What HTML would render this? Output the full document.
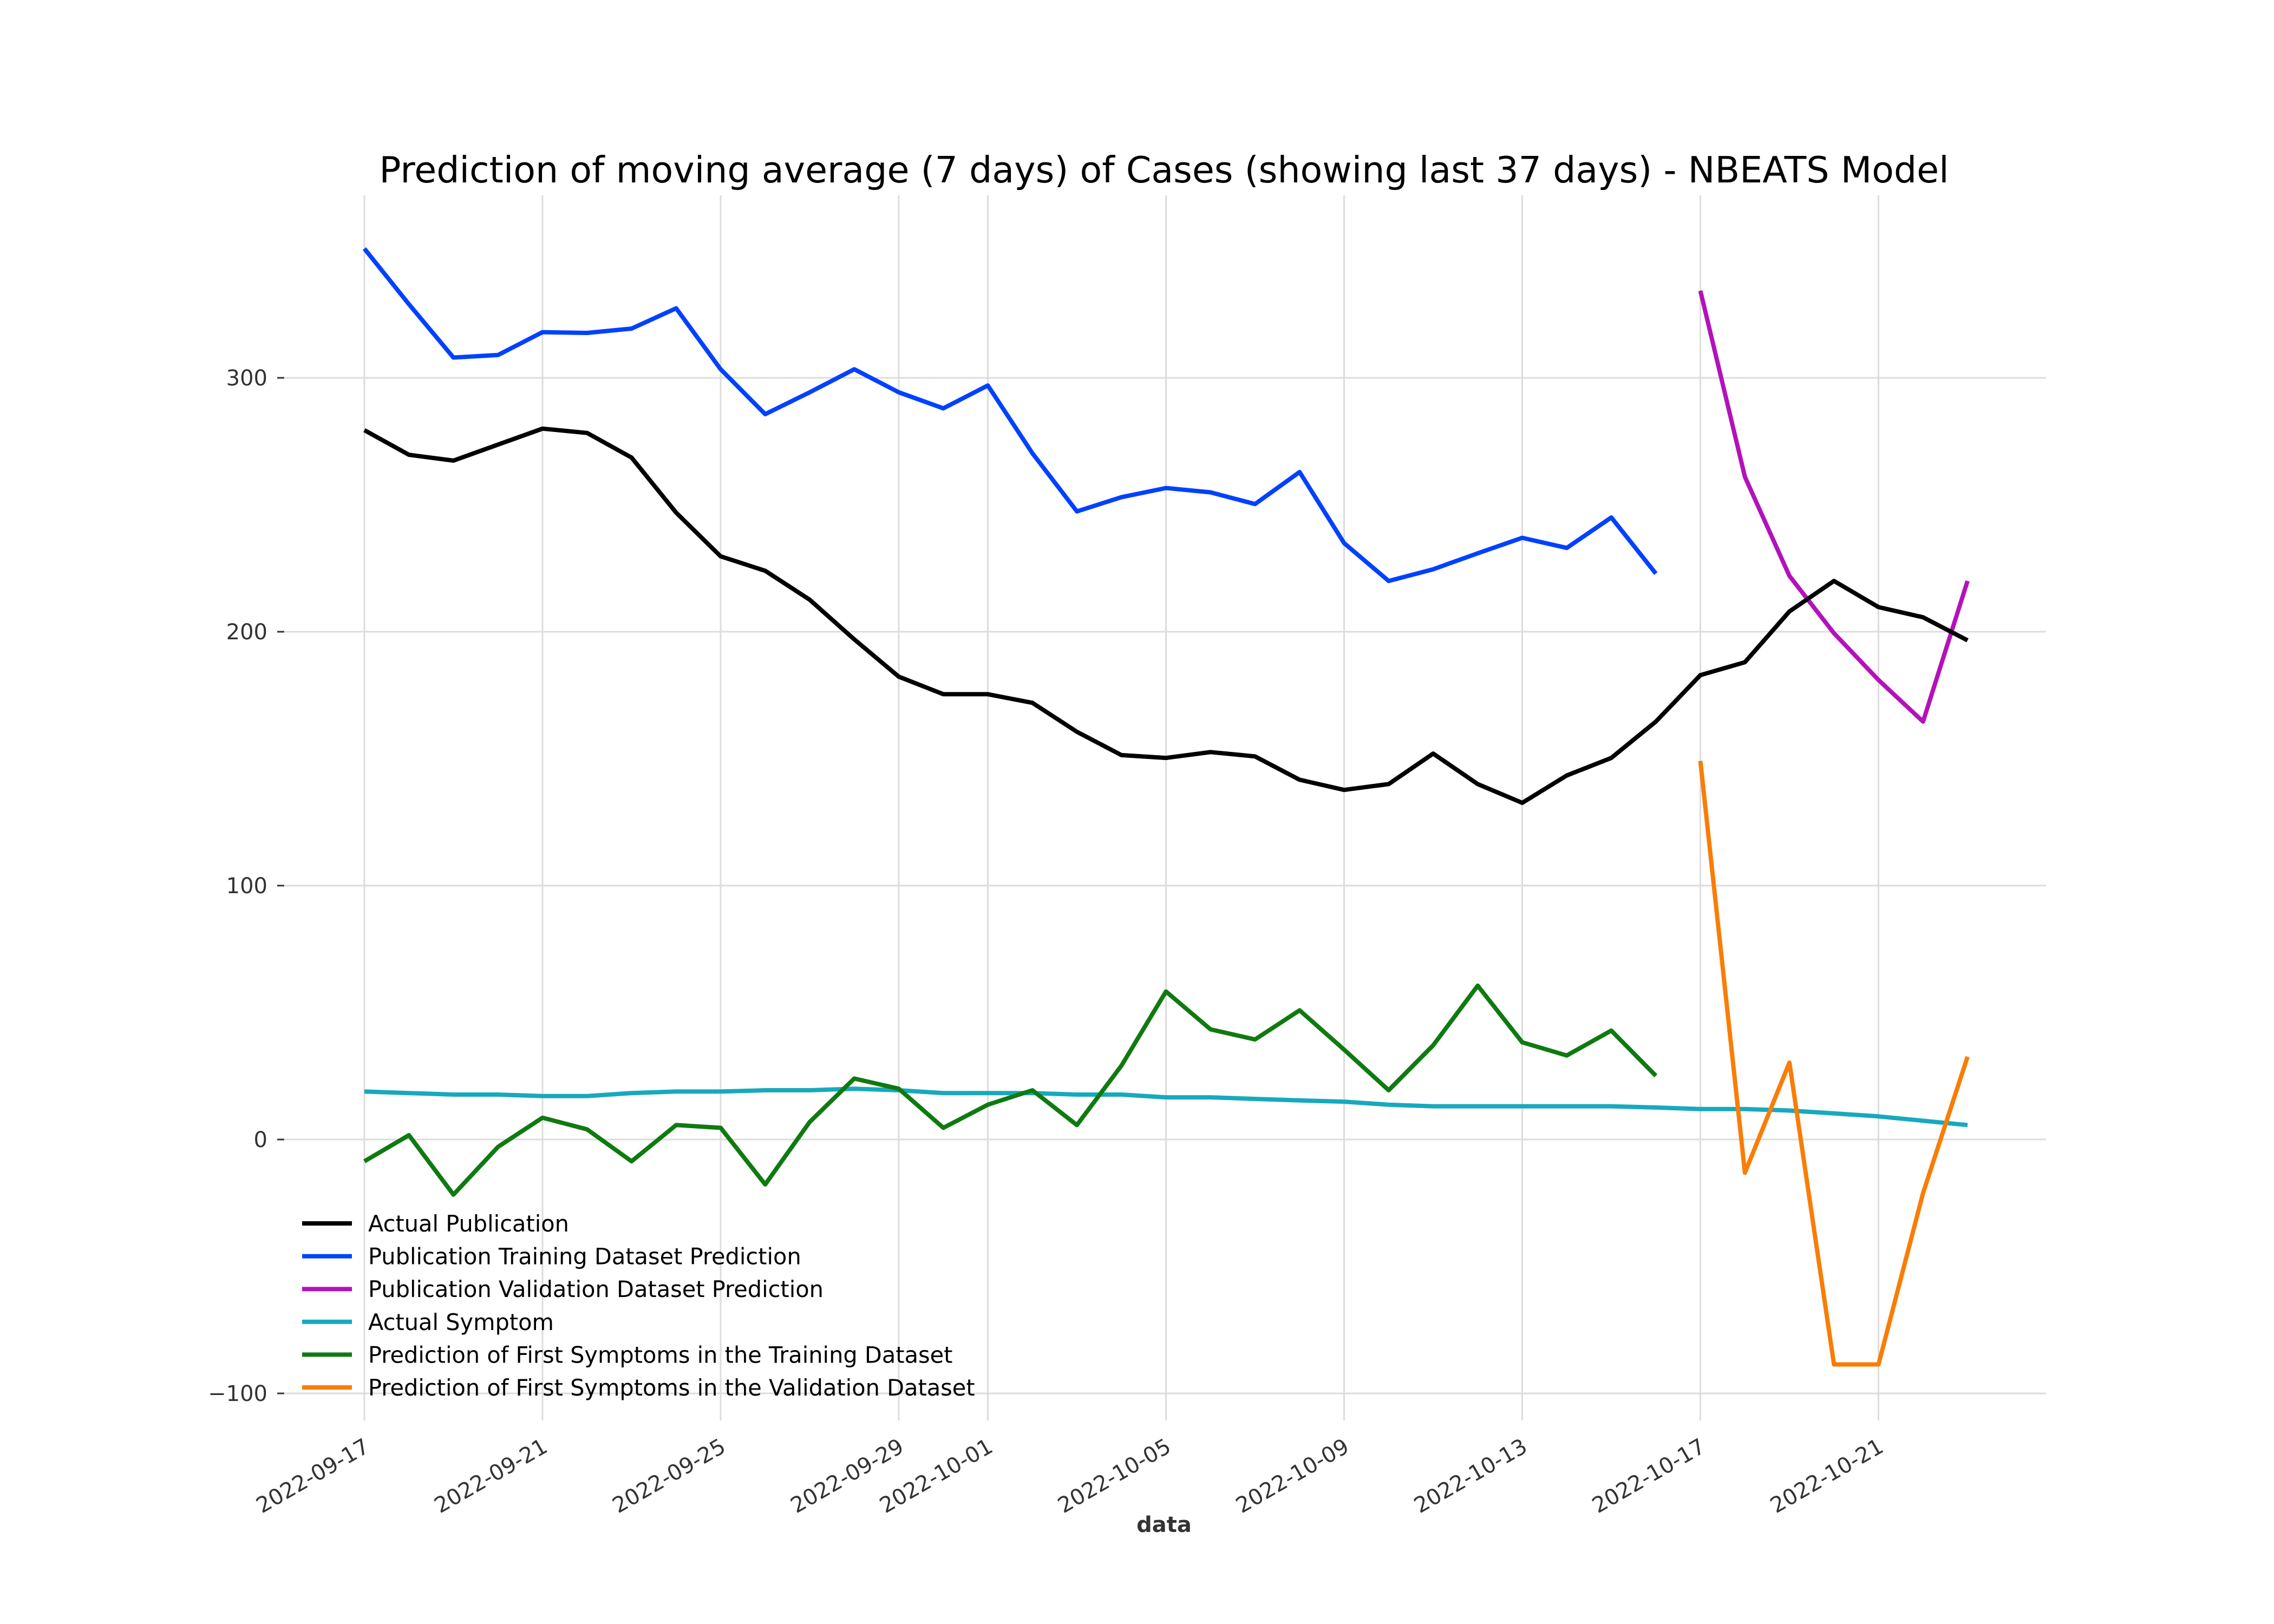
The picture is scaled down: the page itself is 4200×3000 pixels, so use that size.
<!DOCTYPE html>
<html><head><meta charset="utf-8"><style>
html,body{margin:0;padding:0;background:#fff;}
svg{display:block;font-family:"DejaVu Sans","Liberation Sans",sans-serif;}
</style></head><body>
<svg id="chart" width="4200" height="3000" viewBox="0 0 4200 3000" xmlns="http://www.w3.org/2000/svg">
<rect width="4200" height="3000" fill="#fff"/>
<text x="2150" y="337" font-size="66.6" text-anchor="middle" fill="#000">Prediction of moving average (7 days) of Cases (showing last 37 days) - NBEATS Model</text>
<g id="grid"></g><g id="axes"></g><g id="series"></g><g id="legend"></g>
<text x="2150" y="2830" font-size="40" font-weight="bold" text-anchor="middle" fill="#333">data</text>
</svg>
<script>
const dateLabels = ["2022-09-17","2022-09-21","2022-09-25","2022-09-29","2022-10-01","2022-10-05","2022-10-09","2022-10-13","2022-10-17","2022-10-21"];
const dateTickIdx = [0,4,8,12,14,18,22,26,30,34];
const yTicks = [-100,0,100,200,300];
const actualPublication = [279.4,269.7,267.4,273.7,280,278.3,268.6,246.9,229.7,224,212.6,197,182.3,175.4,175.4,172,160.6,151.4,150.3,152.6,150.9,141.7,137.7,140,152,140,132.6,143.4,150.3,164.6,182.9,188,208,220,209.7,205.7,196.6];
const pubTrainPred = [350.9,329,308,309,318,317.7,319.4,327.4,303.4,285.7,294.3,303.4,294.3,288,297,270.3,247.4,253,256.6,254.9,250.3,262.9,234.9,220,224.6,230.9,237,233,245,222.9];
const pubValPred = [334.3,261,222,199.4,181,164.6,220];
const actualSymptom = [18.9,18.3,17.7,17.7,17.1,17.1,18.3,18.9,18.9,19.4,19.4,20,19.4,18.3,18.3,18.3,17.7,17.7,16.6,16.6,16,15.4,14.9,13.7,13.1,13.1,13.1,13.1,13.1,12.6,12,12,11.4,10.3,9.1,7.4,5.7];
const symTrainPred = [-8.6,1.7,-21.7,-2.9,8.6,4,-8.6,5.7,4.6,-17.7,6.9,24,20,4.6,13.7,19.4,5.7,29.1,58.3,43.4,39.4,50.9,35.4,19.4,37.1,60.6,38.3,33.1,42.9,25.1];
const symValPred = [149.1,-13.1,30.3,-88.6,-88.6,-21.1,32.6];

const NS="http://www.w3.org/2000/svg";
const X0=673, DX=82.25, Y0=2105, DY=4.69;
const xs = i => X0 + i*DX;
const ys = v => Y0 - v*DY;
function mk(tag, attrs, parent){const e=document.createElementNS(NS,tag);for(const k in attrs)e.setAttribute(k,attrs[k]);parent.appendChild(e);return e;}
const grid=document.getElementById('grid'), axes=document.getElementById('axes'), series=document.getElementById('series'), legend=document.getElementById('legend');

yTicks.forEach(v=>{
  const g=mk('line',{x1:526,x2:3779,y1:ys(v),y2:ys(v),stroke:'#dcdcdc','stroke-width':3},grid);
  
  
  const t=mk('line',{x1:512,x2:525,y1:ys(v),y2:ys(v),stroke:'#333','stroke-width':3},axes);
  
  
  const l=mk('text',{x:494,y:ys(v)+14,'font-size':40,'text-anchor':'end',fill:'#333'},axes);
  l.textContent = v<0 ? '\u2212'+Math.abs(v) : String(v);
  
  
});
dateTickIdx.forEach((idx,k)=>{
  const x=xs(idx);
  const g=mk('line',{x1:x,x2:x,y1:361,y2:2624,stroke:'#dcdcdc','stroke-width':3},grid);
  
  
  const ax=x+12;
  const l=mk('text',{x:ax,y:2680,'font-size':40,'text-anchor':'end',fill:'#333',transform:`rotate(-30 ${ax} 2680)`},axes);
  l.textContent=dateLabels[k];
  
  
});

function drawLine(vals, start, color, name){
  const pts=vals.map((v,i)=>xs(start+i).toFixed(1)+','+ys(v).toFixed(1)).join(' ');
  const p=mk('polyline',{points:pts,fill:'none',stroke:color,'stroke-width':8,'stroke-linejoin':'round'},series);
  
  
}
drawLine(actualSymptom,0,'#17a9bd','actual-symptom-line');
drawLine(symTrainPred,0,'#0f7a10','symptom-training-prediction-line');
drawLine(symValPred,30,'#f97d06','symptom-validation-prediction-line');
drawLine(pubTrainPred,0,'#0041ff','publication-training-prediction-line');
drawLine(pubValPred,30,'#b312ba','publication-validation-prediction-line');
drawLine(actualPublication,0,'#000000','actual-publication-line');

const legItems=[["Actual Publication","#000000"],["Publication Training Dataset Prediction","#0041ff"],["Publication Validation Dataset Prediction","#b312ba"],["Actual Symptom","#17a9bd"],["Prediction of First Symptoms in the Training Dataset","#0f7a10"],["Prediction of First Symptoms in the Validation Dataset","#f97d06"]];
legItems.forEach((it,k)=>{
  const y=2260+k*60.6;
  const g=mk('g',{},legend);
  
  
  mk('line',{x1:558,x2:650,y1:y,y2:y,stroke:it[1],'stroke-width':8},g);
  const t=mk('text',{x:680,y:y+15,'font-size':41.5,fill:'#000'},g);
  t.textContent=it[0];
});
</script>
</body></html>
